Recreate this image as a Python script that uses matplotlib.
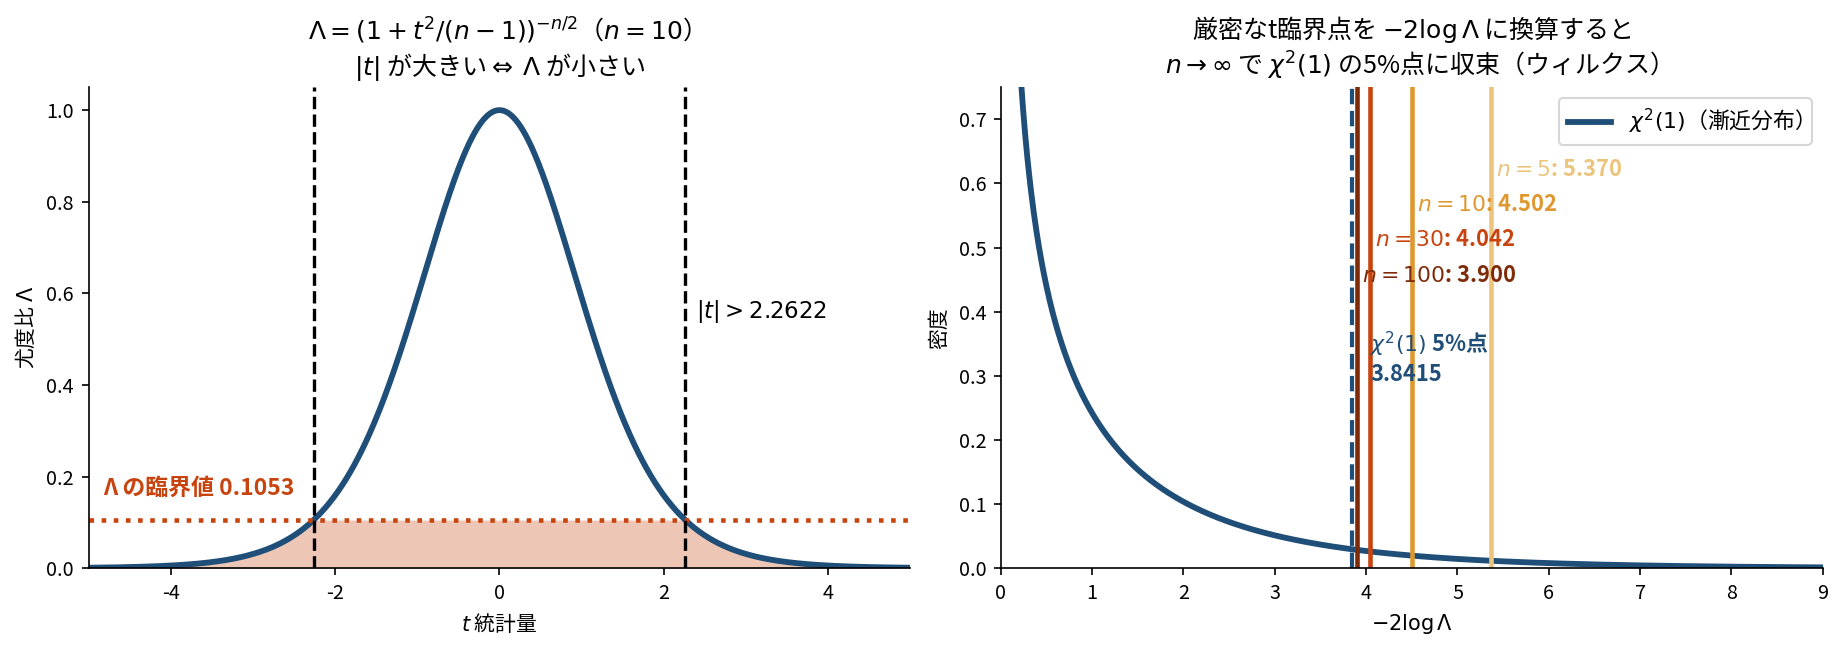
import numpy as np
import matplotlib
matplotlib.use('Agg')
import matplotlib.pyplot as plt

plt.rcParams['font.family'] = ['Noto Sans CJK JP', 'DejaVu Sans']
plt.rcParams['axes.unicode_minus'] = False

# values
n_left = 10
t_crit = 2.2622
lam_crit = 0.1053
chi2_crit = 3.8415
sample_sizes = [100, 30, 10, 5]
exact_points = [3.900, 4.042, 4.502, 5.370]
label_y = [0.457, 0.512, 0.567, 0.622]

blue = '#1f4e79'
red = '#c8440f'
line_colors = ['#7f2a08', '#c8440f', '#de982f', '#ecc47c']

fig, (ax1, ax2) = plt.subplots(1, 2, figsize=(12.293, 4.34), dpi=150)
fig.subplots_adjust(left=0.048, right=0.9885, bottom=0.127, top=0.866, wspace=0.11)

# left: likelihood ratio vs t
t = np.linspace(-5, 5, 1001)
lam = (1 + t ** 2 / (n_left - 1)) ** (-n_left / 2)
ax1.fill_between(t, 0, np.minimum(lam, lam_crit), color=red, alpha=0.3, lw=0)
ax1.plot(t, lam, color=blue, lw=2.8)
ax1.axhline(lam_crit, color=red, ls=':', lw=2.2)
for s in (-t_crit, t_crit):
    ax1.axvline(s, color='black', ls='--', lw=1.6)
ax1.text(t_crit + 0.13, 0.56, r'$|t|>%.4f$' % t_crit, fontsize=11, va='center')
ax1.text(-4.82, lam_crit + 0.07, 'Λ の臨界値 %.4f' % lam_crit, color=red,
         fontsize=11, fontweight='bold', va='center')
ax1.set_xlim(-5, 5)
ax1.set_ylim(0, 1.05)
ax1.set_xlabel(r'$t$ 統計量', fontsize=10)
ax1.set_ylabel(r'尤度比 $\Lambda$', fontsize=10)
ax1.set_title(r'$\Lambda=(1+t^2/(n-1))^{-n/2}$（$n=%d$）' % n_left + '\n'
              + r'$|t|$ が大きい$\Leftrightarrow$ $\Lambda$ が小さい', fontsize=12)

# right: chi2(1) density
x = np.linspace(0.005, 9, 2000)
dens = np.exp(-x / 2) / np.sqrt(2 * np.pi * x)
ax2.plot(x, dens, color=blue, lw=2.8, label=r'$\chi^2(1)$（漸近分布）')
ax2.axvline(chi2_crit, color=blue, ls='--', lw=2)
for nn, v, c, yy in zip(sample_sizes, exact_points, line_colors, label_y):
    ax2.axvline(v, color=c, lw=2.2)
    ax2.text(v + 0.05, yy, r'$n=%d$: %.3f' % (nn, v), color=c, fontsize=10.5,
             fontweight='bold', va='center')
ax2.text(chi2_crit + 0.2, 0.328, r'$\chi^2(1)$ 5%点' + '\n%.4f' % chi2_crit,
         color=blue, fontsize=10.5, fontweight='bold', va='center')
ax2.set_xlim(0, 9)
ax2.set_ylim(0, 0.75)
ax2.set_xlabel(r'$-2\log\Lambda$', fontsize=10)
ax2.set_ylabel('密度', fontsize=10)
ax2.set_title('厳密なt臨界点を $-2\\log\\Lambda$ に換算すると\n'
              + r'$n\to\infty$ で $\chi^2(1)$ の5%点に収束（ウィルクス）', fontsize=12)
ax2.legend(loc='upper right', fontsize=10.5)

for ax in (ax1, ax2):
    ax.spines['top'].set_visible(False)
    ax.spines['right'].set_visible(False)
    ax.tick_params(labelsize=9.5)

fig.savefig('out.png', dpi=150)
